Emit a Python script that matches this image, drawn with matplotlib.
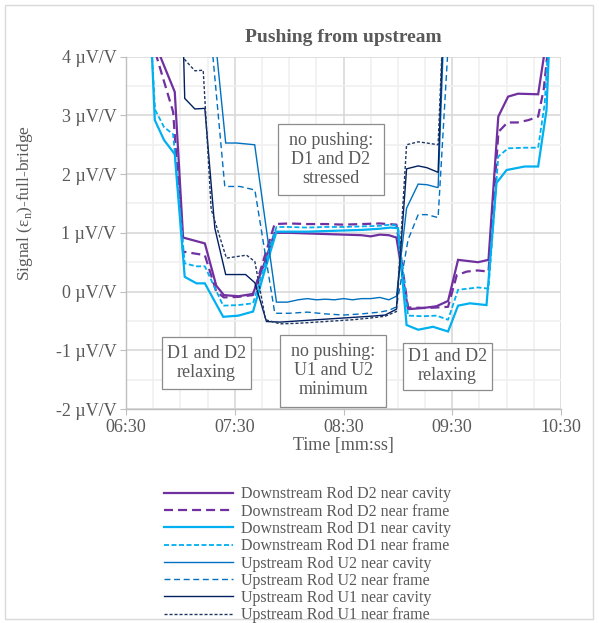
import matplotlib
matplotlib.use("Agg")
import matplotlib.pyplot as plt
from matplotlib.ticker import MultipleLocator, FuncFormatter
from matplotlib.patches import Rectangle

plt.rcParams["font.family"] = ["Liberation Serif", "DejaVu Serif"]
plt.rcParams["mathtext.fontset"] = "custom"
plt.rcParams["mathtext.rm"] = "Liberation Serif"
plt.rcParams["lines.scale_dashes"] = False

GREY = "#595959"

# time in seconds (06:30 = 390 s), signal in uV/V
t_d2_cav = [405, 416.9, 421.5, 433.5, 439.8, 444, 452, 460, 466, 472, 480, 490, 500, 510, 520, 525, 530,
            535, 539.2, 545.6, 553.9, 561.3, 567.7, 573.2, 584.2, 590.0, 595.4, 600.8, 606.3, 617.4, 623.5]
v_d2_cav = [4.3, 3.40, 0.92, 0.82, 0.10, -0.06, -0.08, -0.04, 0.45, 1.00, 1.00, 0.99, 0.98, 0.97, 0.96, 0.94, 0.97,
            0.96, 0.92, -0.30, -0.28, -0.25, -0.16, 0.54, 0.50, 0.54, 2.98, 3.32, 3.37, 3.36, 4.6]

t_d2_frm = [404, 416, 421.5, 433.5, 439.8, 444, 452, 460, 466, 472, 480, 490, 500, 510, 520, 530, 539.2,
            545.6, 556, 562, 567.7, 572.5, 578, 584, 590, 595.5, 600.5, 606, 612, 617.4, 620.5, 623]
v_d2_frm = [4.3, 3.06, 0.68, 0.62, 0.0, -0.10, -0.09, -0.06, 0.55, 1.15, 1.16, 1.15, 1.15, 1.14, 1.15, 1.16, 1.14,
            -0.27, -0.28, -0.27, -0.26, 0.28, 0.34, 0.36, 0.34, 2.72, 2.88, 2.88, 2.92, 2.98, 3.45, 4.2]

t_d1_cav = [403.5, 405.9, 411, 416.9, 422.4, 428.9, 433.5, 443.6, 452, 460.1, 466, 473, 480, 490, 500, 510, 520,
            530, 536, 540, 544.8, 551.2, 559.4, 567.7, 573.2, 579.7, 588.9, 594.4, 600, 610, 617.4, 622, 624]
v_d1_cav = [4.6, 2.92, 2.58, 2.34, 0.25, 0.14, 0.14, -0.43, -0.41, -0.34, 0.30, 1.02, 1.02, 1.02, 1.03, 1.04, 1.05,
            1.07, 1.09, 1.08, -0.57, -0.65, -0.60, -0.68, -0.24, -0.20, -0.23, 1.85, 2.07, 2.13, 2.13, 3.09, 4.6]

t_d1_frm = [403.5, 406, 411, 416, 422.4, 428.9, 433.5, 443.6, 452, 460.1, 466, 473, 480, 490, 500, 510, 520,
            530, 536, 540, 545.6, 553.9, 561.3, 567.7, 573.2, 584.2, 590, 595.4, 600.8, 610, 617.4, 621, 623.5]
v_d1_frm = [4.5, 3.1, 2.8, 2.68, 0.48, 0.43, 0.43, -0.24, -0.23, -0.20, 0.40, 1.10, 1.10, 1.09, 1.10, 1.10, 1.11,
            1.12, 1.14, 1.12, -0.41, -0.42, -0.41, -0.48, 0.03, 0.07, 0.05, 2.30, 2.44, 2.45, 2.45, 3.2, 4.5]

t_u2_cav = [437, 445, 451, 461, 473, 479, 485, 490, 495, 500, 505, 510, 515, 520, 525, 530, 535, 539.2,
            544.8, 551.2, 556, 562.2, 566]
v_u2_cav = [5.0, 2.53, 2.53, 2.50, -0.18, -0.18, -0.14, -0.12, -0.14, -0.13, -0.14, -0.12, -0.14, -0.12, -0.12,
            -0.10, -0.14, -0.08, 1.42, 1.83, 1.82, 1.77, 5.0]

t_u2_frm = [435, 444.5, 452.8, 461.1, 472.1, 480, 490, 500, 510, 520, 530, 535, 539.2, 545.6, 551.2, 556, 562.2, 568.5]
v_u2_frm = [5.0, 1.79, 1.79, 1.73, -0.37, -0.37, -0.35, -0.38, -0.40, -0.38, -0.35, -0.32, -0.26, 0.88, 1.31, 1.31,
            1.26, 4.6]

t_u1_cav = [421, 422.4, 428, 433.5, 439, 445, 456, 461.1, 467.5, 475, 485, 495, 505, 515, 525, 533, 539.2,
            544.8, 551.2, 556, 562.2, 565.5]
v_u1_cav = [5.0, 3.29, 3.11, 3.12, 1.08, 0.29, 0.29, 0.15, -0.51, -0.52, -0.50, -0.48, -0.46, -0.44, -0.42, -0.40,
            -0.30, 2.09, 2.14, 2.11, 2.03, 5.0]

t_u1_frm = [421, 422.4, 428, 432.6, 437, 445.4, 456.5, 461.1, 467, 475, 485, 495, 505, 515, 525, 533, 539.2,
            544.8, 551.2, 556, 562.2, 565.5]
v_u1_frm = [5.0, 3.95, 3.76, 3.77, 1.40, 0.57, 0.62, 0.51, -0.48, -0.55, -0.54, -0.52, -0.50, -0.48, -0.45, -0.42,
            -0.34, 2.50, 2.55, 2.53, 2.50, 5.0]

labels = ["Downstream Rod D2 near cavity", "Downstream Rod D2 near frame",
          "Downstream Rod D1 near cavity", "Downstream Rod D1 near frame",
          "Upstream Rod U2 near cavity", "Upstream Rod U2 near frame",
          "Upstream Rod U1 near cavity", "Upstream Rod U1 near frame"]

x_ticks = [390, 450, 510, 570, 630]

# (text, t_min, t_max, v_min, v_max)
notes = [("no pushing:\nD1 and D2\nstressed", 473.9, 532.2, 1.65, 2.85),
         ("D1 and D2\nrelaxing", 410.1, 458.7, -1.66, -0.78),
         ("no pushing:\nU1 and U2\nminimum", 475.2, 533.3, -1.96, -0.74),
         ("D1 and D2\nrelaxing", 542.9, 591.7, -1.67, -0.87)]

fig = plt.figure(figsize=(5.99, 6.23), dpi=100)
ax = fig.add_axes([126 / 599, 1 - 409 / 623, 435 / 599, 352.3 / 623])

series = [
    (t_d2_cav, v_d2_cav, dict(color="#7030A0", lw=1.6)),
    (t_d2_frm, v_d2_frm, dict(color="#7030A0", lw=1.6, dashes=(6.5, 3.6))),
    (t_d1_cav, v_d1_cav, dict(color="#00B0F0", lw=1.6)),
    (t_d1_frm, v_d1_frm, dict(color="#00B0F0", lw=1.3, dashes=(3.6, 1.8))),
    (t_u2_cav, v_u2_cav, dict(color="#0070C0", lw=1.0)),
    (t_u2_frm, v_u2_frm, dict(color="#0070C0", lw=1.0, dashes=(4.3, 2.6))),
    (t_u1_cav, v_u1_cav, dict(color="#002060", lw=1.0)),
    (t_u1_frm, v_u1_frm, dict(color="#1F3864", lw=1.0, dashes=(2.2, 1.4))),
]
for (t, v, kw), lab in zip(series, labels):
    ax.plot(t, v, label=lab, solid_joinstyle="miter", **kw)

ax.set_xlim(390, 630)
ax.set_ylim(-2, 4)
ax.set_xticks(x_ticks)
ax.xaxis.set_minor_locator(MultipleLocator(15))
ax.yaxis.set_major_locator(MultipleLocator(1))
ax.yaxis.set_minor_locator(MultipleLocator(0.5))
ax.xaxis.set_major_formatter(FuncFormatter(lambda s, p: "%02d:%02d" % (int(s) // 60, int(s) % 60)))
ax.yaxis.set_major_formatter(FuncFormatter(lambda v, p: "%d µV/V" % round(v)))

ax.grid(which="major", color="#D9D9D9", lw=1.2, zorder=0)
ax.grid(which="minor", color="#F0F0F0", lw=1.2, zorder=0)
ax.set_axisbelow(True)
for s in ["top", "right"]:
    ax.spines[s].set_visible(False)
for s in ["left", "bottom"]:
    ax.spines[s].set_color("#BFBFBF")
    ax.spines[s].set_linewidth(1.0)
ax.tick_params(which="major", length=4, color="#BFBFBF", labelcolor=GREY, labelsize=13, pad=3)
ax.tick_params(axis="x", which="major", pad=3)
ax.tick_params(which="minor", length=0)

ax.set_xlabel("Time [mm:ss]", fontsize=13, color=GREY)
ax.set_ylabel(r"Signal (ε$_{\mathregular{n}}$)-full-bridge", fontsize=12.5, color=GREY)
ax.yaxis.set_label_coords(-0.21, 0.585)
ax.xaxis.set_label_coords(0.5, -0.08)

for txt, x0, x1, y0, y1 in notes:
    ax.add_patch(Rectangle((x0, y0), x1 - x0, y1 - y0, fc="white", ec="#8C8C8C", lw=0.9, zorder=5))
    ax.text((x0 + x1) / 2, (y0 + y1) / 2, txt, ha="center", va="center", fontsize=13,
            color=GREY, linespacing=1.15, zorder=6)

fig.text(343.6 / 599, 1 - 37 / 623, "Pushing from upstream", ha="center", va="center",
         fontsize=14, fontweight="bold", color=GREY)

fig.legend(loc="upper left", bbox_to_anchor=(158 / 599, 1 - 480 / 623), frameon=False,
           fontsize=11.5, labelcolor=GREY, handlelength=4.3, handletextpad=0.5,
           labelspacing=0.08, borderaxespad=0)

fig.patches.append(Rectangle((5 / 599, 4 / 623), 588 / 599, 614 / 623, transform=fig.transFigure,
                             fill=False, ec="#D9D9D9", lw=1.0))

fig.savefig("out.png", dpi=100)
